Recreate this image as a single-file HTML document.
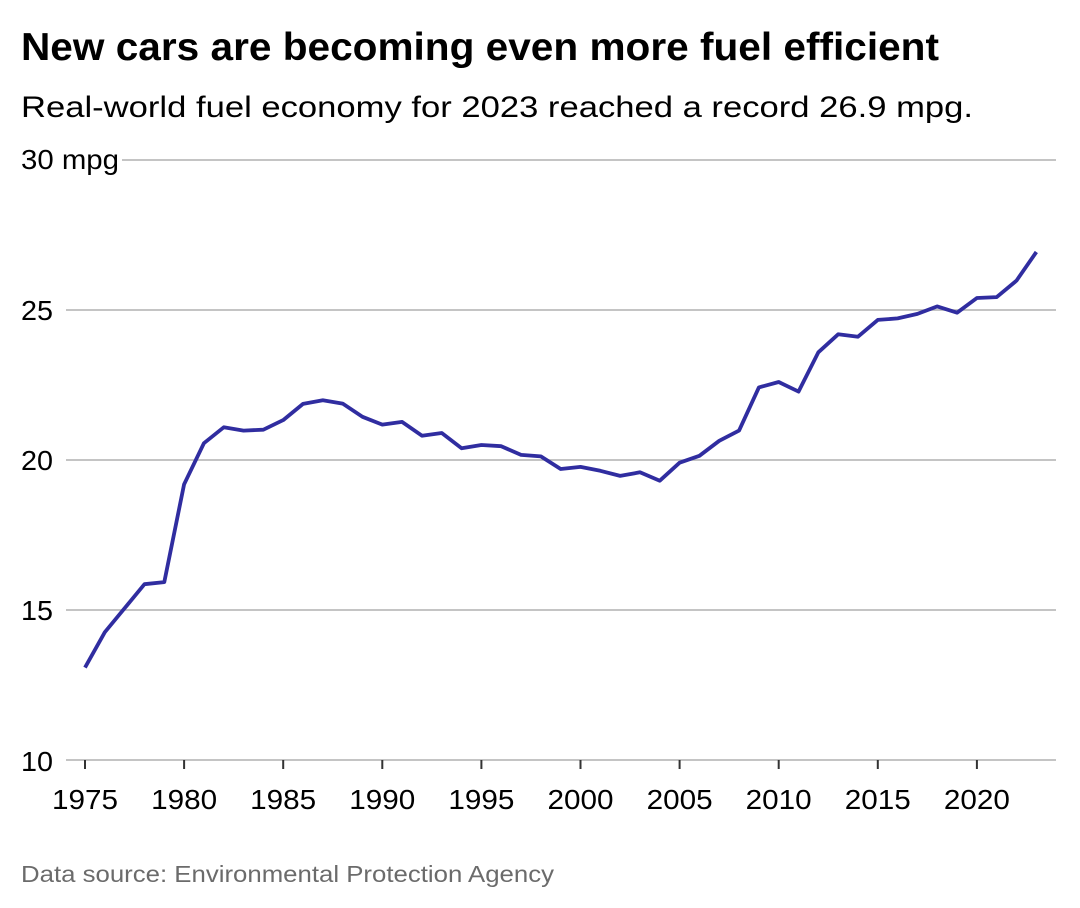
<!DOCTYPE html>
<html>
<head>
<meta charset="utf-8">
<style>
  html, body { margin: 0; padding: 0; background: #ffffff; }
  svg { display: block; }
  text { font-family: "Liberation Sans", Arial, sans-serif; }
</style>
</head>
<body>
<svg width="1080" height="908" viewBox="0 0 1080 908" xmlns="http://www.w3.org/2000/svg">
  <rect x="0" y="0" width="1080" height="908" fill="#ffffff"/>

  <!-- Title & subtitle -->
  <text x="21" y="60" font-size="39" font-weight="bold" fill="#000" textLength="918" lengthAdjust="spacingAndGlyphs">New cars are becoming even more fuel efficient</text>
  <text x="21" y="117" font-size="30" fill="#000" textLength="952" lengthAdjust="spacingAndGlyphs">Real-world fuel economy for 2023 reached a record 26.9 mpg.</text>

  <!-- Gridlines -->
  <g stroke="#b0b0b0" stroke-width="1.6">
    <line x1="122" y1="160" x2="1056" y2="160"/>
    <line x1="66" y1="310" x2="1056" y2="310"/>
    <line x1="66" y1="460" x2="1056" y2="460"/>
    <line x1="66" y1="610" x2="1056" y2="610"/>
    <line x1="66" y1="760" x2="1056" y2="760"/>
  </g>

  <!-- Y labels -->
  <g font-size="28" fill="#000">
    <text x="21" y="169" textLength="98" lengthAdjust="spacingAndGlyphs">30 mpg</text>
    <text x="21" y="320" textLength="32" lengthAdjust="spacingAndGlyphs">25</text>
    <text x="21" y="470" textLength="32" lengthAdjust="spacingAndGlyphs">20</text>
    <text x="21" y="620" textLength="32" lengthAdjust="spacingAndGlyphs">15</text>
    <text x="21" y="771" textLength="32" lengthAdjust="spacingAndGlyphs">10</text>
  </g>

  <!-- X ticks -->
  <g stroke="#333" stroke-width="2">
    <line x1="85" y1="760" x2="85" y2="769"/>
    <line x1="184.1" y1="760" x2="184.1" y2="769"/>
    <line x1="283.2" y1="760" x2="283.2" y2="769"/>
    <line x1="382.3" y1="760" x2="382.3" y2="769"/>
    <line x1="481.4" y1="760" x2="481.4" y2="769"/>
    <line x1="580.5" y1="760" x2="580.5" y2="769"/>
    <line x1="679.6" y1="760" x2="679.6" y2="769"/>
    <line x1="778.7" y1="760" x2="778.7" y2="769"/>
    <line x1="877.8" y1="760" x2="877.8" y2="769"/>
    <line x1="976.9" y1="760" x2="976.9" y2="769"/>
  </g>

  <!-- X labels -->
  <g font-size="28" fill="#000" text-anchor="middle">
    <text x="85" y="809" textLength="66" lengthAdjust="spacingAndGlyphs">1975</text>
    <text x="184.1" y="809" textLength="66" lengthAdjust="spacingAndGlyphs">1980</text>
    <text x="283.2" y="809" textLength="66" lengthAdjust="spacingAndGlyphs">1985</text>
    <text x="382.3" y="809" textLength="66" lengthAdjust="spacingAndGlyphs">1990</text>
    <text x="481.4" y="809" textLength="66" lengthAdjust="spacingAndGlyphs">1995</text>
    <text x="580.5" y="809" textLength="66" lengthAdjust="spacingAndGlyphs">2000</text>
    <text x="679.6" y="809" textLength="66" lengthAdjust="spacingAndGlyphs">2005</text>
    <text x="778.7" y="809" textLength="66" lengthAdjust="spacingAndGlyphs">2010</text>
    <text x="877.8" y="809" textLength="66" lengthAdjust="spacingAndGlyphs">2015</text>
    <text x="976.9" y="809" textLength="66" lengthAdjust="spacingAndGlyphs">2020</text>
  </g>

  <!-- Data line -->
  <polyline fill="none" stroke="#302da0" stroke-width="3.8" stroke-linejoin="round" stroke-linecap="butt"
    points="85,667.6 104.82,632.2 124.64,608.2 144.46,584.2 164.28,582.1 184.1,484.3 203.92,443.2 223.74,427.3 243.56,430.6 263.38,429.7 283.2,420.1 303.02,403.9 322.84,400.3 342.66,403.6 362.48,416.8 382.3,424.6 402.12,421.9 421.94,435.7 441.76,433 461.58,448.3 481.4,445 501.22,446.2 521.04,454.9 540.86,456.4 560.68,469 580.5,466.9 600.32,470.8 620.14,475.9 639.96,472.3 659.78,480.7 679.6,462.7 699.42,455.8 719.24,440.8 739.06,430.6 758.88,387.4 778.7,382 798.52,391.6 818.34,352.3 838.16,334.3 857.98,336.7 877.8,319.9 897.62,318.4 917.44,313.9 937.26,306.4 957.08,312.7 976.9,298 996.72,297.1 1016.54,280.6 1036.36,252"/>

  <!-- Source -->
  <text x="21" y="882" font-size="23" fill="#6b6b6b" textLength="533" lengthAdjust="spacingAndGlyphs">Data source: Environmental Protection Agency</text>
</svg>
</body>
</html>
